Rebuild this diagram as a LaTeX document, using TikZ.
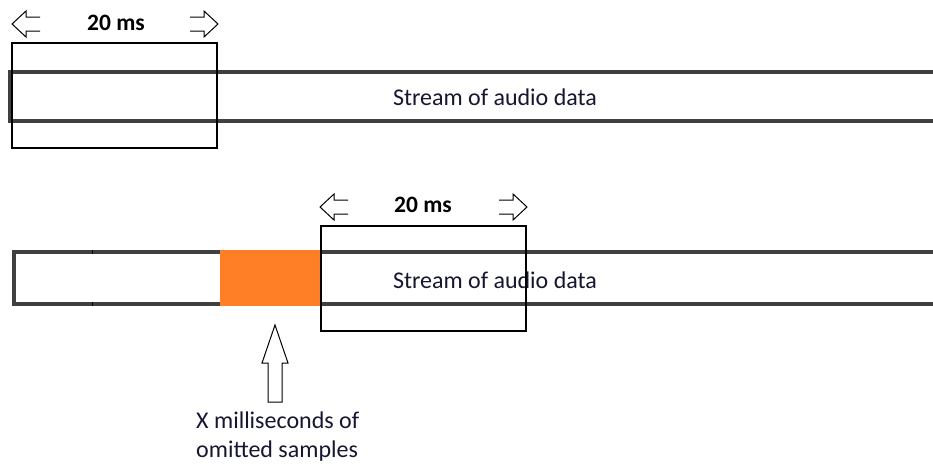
\documentclass[tikz,border=0pt]{standalone}
\usepackage{fontspec}
\setmainfont{Carlito}
\definecolor{streamgray}{RGB}{64,64,64}
\definecolor{gaporange}{RGB}{255,127,39}
\definecolor{txt}{RGB}{22,22,48}
\begin{document}
\begin{tikzpicture}[x=1pt,y=-1pt,
  streamline/.style={line width=4pt, draw=streamgray, line join=miter},
  win/.style={draw=black, line width=1.3pt, inner sep=0pt, outer sep=0pt},
  hollow/.style={draw=black, line width=1pt, fill=white, line join=miter},
  lbl/.style={font=\fontsize{24}{29}\selectfont, text=txt, inner sep=0pt},
  hdr/.style={font=\bfseries\fontsize{23.5}{26}\selectfont, text=black, inner sep=0pt},
  larr/.pic={\draw[hollow] (28,-7) -- (14,-7) -- (14,-13) -- (0,0) -- (14,13) -- (14,7) -- (28,7);},
  rarr/.pic={\draw[hollow] (-28,-7) -- (-14,-7) -- (-14,-13) -- (0,0) -- (-14,13) -- (-14,7) -- (-28,7);}
]
\useasboundingbox (0,0) rectangle (933,463);

% top stream
\coordinate (s1tl) at (10,72);
\coordinate (s1bl) at (10,121);
\coordinate (s1tr) at (940,72);
\coordinate (s1br) at (940,121);
\draw[streamline] (s1tr) -- (s1tl) -- (s1bl) -- (s1br);
\node[lbl] (d1) at (495,97) {Stream of audio data};

% top window
\node[win, minimum width=205pt, minimum height=105pt, anchor=north west] (w1) at (12,43) {};
\node[hdr] (h1) at (116,23) {20 ms};
\pic at (12,24) {larr};
\pic at (218,24) {rarr};

% bottom stream
\coordinate (s2tl) at (14,252);
\coordinate (s2bl) at (14,304);
\coordinate (s2tr) at (940,252);
\coordinate (s2br) at (940,304);
\draw[streamline] (s2tr) -- (s2tl) -- (s2bl) -- (s2br);
\draw[black, line width=0.8pt] (92,250) -- (92,254) (92,302) -- (92,306);
\node[fill=gaporange, inner sep=0pt, outer sep=0pt, minimum width=100pt, minimum height=56pt, anchor=north west] (gap) at (220,250) {};
\node[lbl] (d2) at (495,280) {Stream of audio data};

% bottom window
\node[win, minimum width=205pt, minimum height=105pt, anchor=north west] (w2) at (321,226) {};
\node[hdr] (h2) at (423,205) {20 ms};
\pic at (320,207) {larr};
\pic at (527,207) {rarr};

% pointer to gap
\coordinate (tip) at (275,325);
\draw[hollow] (tip) -- (288,363) -- (282,363) -- (282,402) -- (268,402) -- (268,363) -- (262,363) -- cycle;
\node[lbl, align=left, anchor=north west] (note) at (196,412) {X milliseconds of\\omitted samples};
\end{tikzpicture}
\end{document}
